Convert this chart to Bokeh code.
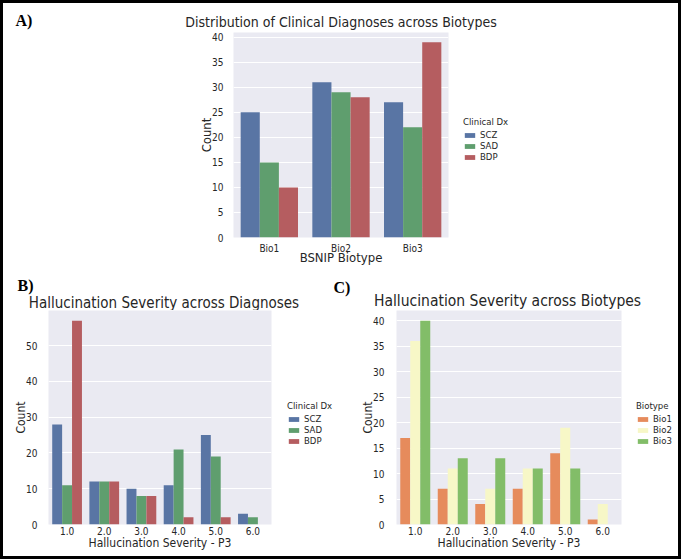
from bokeh.plotting import figure
from bokeh.layouts import column, row
from bokeh.models import ColumnDataSource, Legend, LegendItem, Range1d, FixedTicker, Label
from bokeh.transform import dodge
from bokeh.embed import file_html
from bokeh.resources import INLINE

# ---- data ----
biotypes = ["Bio1", "Bio2", "Bio3"]
dx_groups = ["SCZ", "SAD", "BDP"]
a_scz = [25, 31, 27]
a_sad = [15, 29, 22]
a_bdp = [10, 28, 39]

severity = ["1.0", "2.0", "3.0", "4.0", "5.0", "6.0"]
b_scz = [28, 12, 10, 11, 25, 3]
b_sad = [11, 12, 8, 21, 19, 2]
b_bdp = [57, 12, 8, 2, 2, 0]

bio_groups = ["Bio1", "Bio2", "Bio3"]
c_bio1 = [17, 7, 4, 7, 14, 1]
c_bio2 = [36, 11, 7, 11, 19, 4]
c_bio3 = [40, 13, 13, 11, 11, 0]

title_a = "Distribution of Clinical Diagnoses across Biotypes"
title_b = "Hallucination Severity across Diagnoses"
title_c = "Hallucination Severity across Biotypes"

dx_colors = ["#5975A4", "#5F9E6E", "#B55D60"]
bio_colors = ["#E68B5C", "#F7F7C7", "#82BD68"]

FONT = "DejaVu Sans Condensed, DejaVu Sans"
TXT = "#262626"


def blank(width, height, **kw):
    f = figure(width=width, height=height, output_backend="svg", toolbar_location=None,
               x_axis_location=None, y_axis_location=None, title=None,
               x_range=Range1d(0, 1), y_range=Range1d(0, 1), **kw)
    f.outline_line_color = None
    f.xgrid.visible = False
    f.ygrid.visible = False
    f.background_fill_color = "white"
    f.border_fill_color = "white"
    return f


def text(f, x, y, txt, size, align="left", serif=False):
    f.add_layout(Label(x=x, y=y, x_units="screen", y_units="screen", text=txt,
                       text_font="Liberation Serif" if serif else FONT,
                       text_font_style="bold" if serif else "normal",
                       text_font_size=size, text_color="black" if serif else TXT,
                       text_align=align, text_baseline="middle"))


def panel(cats, series, names, colors, xlabel, yticks, ytop,
          width, height, borders, label_size, tick_size, ystandoff,
          xstandoff, xlabel_standoff):
    left, right, top, bottom = borders
    p = figure(x_range=cats, y_range=Range1d(0, ytop), width=width, height=height,
               output_backend="svg", toolbar_location=None, title=None,
               min_border_left=left, min_border_right=right,
               min_border_top=top, min_border_bottom=bottom)
    data = {"cat": cats}
    for n, s in zip(names, series):
        data[n] = s
    src = ColumnDataSource(data)
    w = 0.8 / len(names)
    for i, (n, c) in enumerate(zip(names, colors)):
        p.vbar(x=dodge("cat", (i - (len(names) - 1) / 2) * w, range=p.x_range),
               top=n, width=w, source=src, fill_color=c, line_color=None)
    p.background_fill_color = "#EAEAF2"
    p.border_fill_color = "white"
    p.outline_line_color = None
    p.xgrid.grid_line_color = None
    p.ygrid.grid_line_color = "white"
    p.ygrid.grid_line_width = 1
    p.yaxis.ticker = FixedTicker(ticks=yticks)
    for ax in (p.xaxis[0], p.yaxis[0]):
        ax.axis_line_color = None
        ax.major_tick_line_color = None
        ax.minor_tick_line_color = None
        ax.major_label_text_font = FONT
        ax.major_label_text_font_size = tick_size
        ax.major_label_text_color = TXT
        ax.axis_label_text_font = FONT
        ax.axis_label_text_font_size = label_size
        ax.axis_label_text_font_style = "normal"
        ax.axis_label_text_color = TXT
    p.yaxis.major_label_standoff = ystandoff
    p.yaxis.axis_label_standoff = -5
    p.xaxis.major_label_standoff = xstandoff
    p.xaxis.axis_label_standoff = xlabel_standoff
    p.xaxis.axis_label = xlabel
    p.yaxis.axis_label = "Count"
    return p


def legend_fig(width, height, top, bottom, names, colors, title, loc):
    f = blank(width, height, min_border_left=0, min_border_right=0,
              min_border_top=top, min_border_bottom=bottom)
    items = []
    for n, c in zip(names, colors):
        # zero-height proxy bar: only provides the legend swatch
        r = f.vbar(x=[0], top=[0], width=0.5, fill_color=c, line_color=None)
        items.append(LegendItem(label=n, renderers=[r]))
    leg = Legend(items=items, location=loc, title=title,
                 title_text_font=FONT, title_text_font_size="9.5px",
                 title_text_font_style="normal", title_text_color=TXT,
                 label_text_font=FONT, label_text_font_size="9.5px",
                 label_text_color=TXT, glyph_width=13, glyph_height=6,
                 label_height=10, spacing=0, padding=0, margin=0,
                 label_standoff=4, title_standoff=2,
                 border_line_color=None, background_fill_alpha=0)
    f.add_layout(leg)
    return f


# ---- top section ----
strip_a = blank(675, 27, min_border=0)
text(strip_a, 12, 10, "A)", "16px", serif=True)
text(strip_a, 337.5, 9, title_a, "14px", align="center")

pa = panel(biotypes, [a_scz, a_sad, a_bdp], dx_groups, dx_colors, "BSNIP Biotype",
           list(range(0, 45, 5)), max(a_bdp) * 1.05,
           455, 240, (230, 10, 2, 33), "13px", "10px", 4, -1, -7)
la = legend_fig(220, 240, 2, 33, dx_groups, dx_colors, "Clinical Dx", (5, 75))

# ---- bottom section ----
strip_bc = blank(675, 40, min_border=0)
text(strip_bc, 14, 25, "B)", "16px", serif=True)
text(strip_bc, 160.5, 8, title_b, "15px", align="center")
text(strip_bc, 330, 23, "C)", "16px", serif=True)
text(strip_bc, 504, 10, title_c, "15.5px", align="center")

pb = panel(severity, [b_scz, b_sad, b_bdp], dx_groups, dx_colors,
           "Hallucination Severity - P3", list(range(0, 60, 10)), max(b_bdp) * 1.05,
           276, 246, (45, 8, 0, 32), "12px", "10px", 5, -4, -2)
lb = legend_fig(54, 246, 0, 32, dx_groups, dx_colors, "Clinical Dx", (8, 78))

pc = panel(severity, [c_bio1, c_bio2, c_bio3], bio_groups, bio_colors,
           "Hallucination Severity - P3", list(range(0, 45, 5)), max(c_bio3) * 1.05,
           298, 246, (63, 10, 0, 32), "12px", "10px", 6, -4, -2)
lc = legend_fig(47, 246, 0, 32, bio_groups, bio_colors, "Biotype", (5, 78))

layout = column(strip_a, row(pa, la, spacing=0), strip_bc,
                row(pb, lb, pc, lc, spacing=0), spacing=0,
                styles={"border": "3px solid black"})

open("out.html", "w").write(file_html(layout, INLINE))
